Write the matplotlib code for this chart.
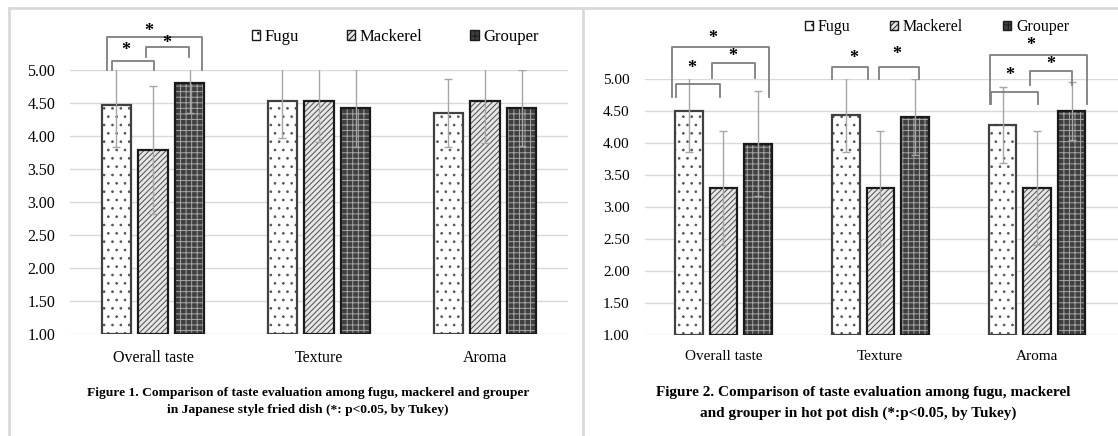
import numpy as np
import matplotlib
matplotlib.use('Agg')
import matplotlib.pyplot as plt
from matplotlib.lines import Line2D
from matplotlib.patches import Patch

plt.rcParams['font.family'] = ['Liberation Serif', 'DejaVu Serif']
plt.rcParams['hatch.linewidth'] = 0.7

categories = ['Overall taste', 'Texture', 'Aroma']
series = ['Fugu', 'Mackerel', 'Grouper']

# Figure 1: Japanese style fried dish
fried_mean = {'Fugu': [4.47, 4.54, 4.35],
              'Mackerel': [3.79, 4.54, 4.53],
              'Grouper': [4.81, 4.43, 4.43]}
fried_sd = {'Fugu': [0.64, 0.56, 0.52],
            'Mackerel': [0.97, 0.62, 0.63],
            'Grouper': [0.45, 0.60, 0.58]}

# Figure 2: hot pot dish
hot_mean = {'Fugu': [4.50, 4.44, 4.28],
            'Mackerel': [3.30, 3.30, 3.30],
            'Grouper': [3.99, 4.41, 4.50]}
hot_sd = {'Fugu': [0.64, 0.58, 0.60],
          'Mackerel': [0.89, 0.89, 0.89],
          'Grouper': [0.82, 0.59, 0.45]}

yticks = [1.0, 1.5, 2.0, 2.5, 3.0, 3.5, 4.0, 4.5, 5.0]

# significance brackets: (x_left, x_right, y_left_leg, y_right_leg, y_top, star_x, star_y)
fried_brackets = [(-0.276, 0.294, 5.00, 5.00, 5.51, -0.027, 5.60),
                  (-0.25, 0.005, 5.00, 5.00, 5.14, -0.163, 5.31),
                  (-0.045, 0.215, 5.20, 5.20, 5.35, 0.08, 5.41)]
hot_brackets = [(-0.331, 0.289, 4.72, 4.72, 5.50, -0.065, 5.64),
                (-0.301, -0.019, 4.72, 4.72, 4.92, -0.205, 5.17),
                (-0.075, 0.20, 5.02, 5.02, 5.25, 0.057, 5.35),
                (0.691, 0.923, 5.00, 5.00, 5.18, 0.832, 5.32),
                (0.992, 1.247, 5.00, 5.00, 5.18, 1.106, 5.39),
                (1.699, 2.315, 4.61, 4.61, 5.375, 1.961, 5.53),
                (1.706, 2.002, 4.61, 4.61, 4.80, 1.824, 5.06),
                (1.954, 2.224, 4.91, 4.91, 5.13, 2.087, 5.23)]

styles = {'Fugu': dict(face='white', hatch='..', hcol='#555555', edge='#404040'),
          'Mackerel': dict(face='#e6e6e6', hatch='//////', hcol='#4d4d4d', edge='#1a1a1a'),
          'Grouper': dict(face='#3f3f3f', hatch='+++', hcol='#a6a6a6', edge='#1a1a1a')}

barWidth = 0.175
offset = 0.22


def draw_panel(ax, means, sds, brackets, xmax, ypad, xpad, fs):
    x = np.arange(len(categories))
    for i, s in enumerate(series):
        st = styles[s]
        pos = x + (i - 1) * offset
        ax.bar(pos, np.array(means[s]) - 1, bottom=1, width=barWidth,
               color=st['face'], hatch=st['hatch'], edgecolor=st['hcol'],
               linewidth=0, zorder=2)
        ax.bar(pos, np.array(means[s]) - 1, bottom=1, width=barWidth,
               fill=False, edgecolor=st['edge'], linewidth=1.6, zorder=3)
        ax.errorbar(pos, means[s], yerr=sds[s], fmt='none', ecolor='#a6a6a6',
                    elinewidth=1, capsize=3, capthick=1, zorder=4)
    ax.set_ylim(1, 5)
    ax.set_xlim(-0.5, xmax)
    ax.set_yticks(yticks)
    ax.set_yticklabels(['%.2f' % v for v in yticks])
    ax.set_xticks(x)
    ax.set_xticklabels(categories)
    ax.tick_params(axis='both', length=0, labelsize=fs)
    ax.tick_params(axis='y', pad=ypad)
    ax.tick_params(axis='x', pad=xpad)
    ax.grid(axis='y', color='#d9d9d9', linewidth=1)
    ax.set_axisbelow(True)
    for sp in ax.spines.values():
        sp.set_visible(False)
    for (x1, x2, yl1, yl2, yt, sx, sy) in brackets:
        ax.plot([x1, x1, x2, x2], [yl1, yt, yt, yl2], color='#7f7f7f',
                linewidth=1.3, clip_on=False, zorder=5)
        ax.text(sx, sy, '*', ha='center', va='center', fontsize=13,
                fontweight='bold', clip_on=False, zorder=6)


fig = plt.figure(figsize=(11.18, 4.36), dpi=100)
W, H = 1118, 436
ax1 = fig.add_axes([70 / W, (H - 333.5) / H, (568 - 70) / W, 263 / H])
ax2 = fig.add_axes([645 / W, (H - 335) / H, (W - 645) / W, 256 / H])

draw_panel(ax1, fried_mean, fried_sd, fried_brackets, 2.5, 10.5, 12, 11.5)
draw_panel(ax2, hot_mean, hot_sd, hot_brackets, 2.515, 11, 11, 11)

handles = [Patch(facecolor=styles[s]['face'], hatch=styles[s]['hatch'],
                 edgecolor='#1a1a1a', linewidth=1) for s in series]
ax1.legend(handles, series, loc='center', bbox_to_anchor=(395 / W, 1 - 37 / H),
           bbox_transform=fig.transFigure, ncol=3, frameon=False, fontsize=12,
           handlelength=0.5, handleheight=0.5, handletextpad=0.25,
           columnspacing=2.9)
ax2.legend(handles, series, loc='center', bbox_to_anchor=(937 / W, 1 - 27 / H),
           bbox_transform=fig.transFigure, ncol=3, frameon=False, fontsize=11.5,
           handlelength=0.5, handleheight=0.5, handletextpad=0.3,
           columnspacing=2.5)

fig.text(308 / W, 1 - 393 / H,
         'Figure 1. Comparison of taste evaluation among fugu, mackerel and grouper',
         ha='center', va='center', fontsize=9.7, fontweight='bold')
fig.text(308 / W, 1 - 410 / H,
         'in Japanese style fried dish (*: p<0.05, by Tukey)',
         ha='center', va='center', fontsize=9.7, fontweight='bold')
fig.text(863 / W, 1 - 392 / H,
         'Figure 2. Comparison of taste evaluation among fugu, mackerel',
         ha='center', va='center', fontsize=11, fontweight='bold')
fig.text(858 / W, 1 - 413 / H,
         'and grouper in hot pot dish (*:p<0.05, by Tukey)',
         ha='center', va='center', fontsize=11, fontweight='bold')

# panel borders
border = '#d9d9d9'
fig.add_artist(Line2D([9 / W, 1], [1 - 8 / H, 1 - 8 / H], color=border, lw=2))
fig.add_artist(Line2D([9 / W, 9 / W], [0, 1 - 8 / H], color=border, lw=2))
fig.add_artist(Line2D([583 / W, 583 / W], [0, 1 - 8 / H], color=border, lw=2))

fig.savefig('out.png', dpi=100)
